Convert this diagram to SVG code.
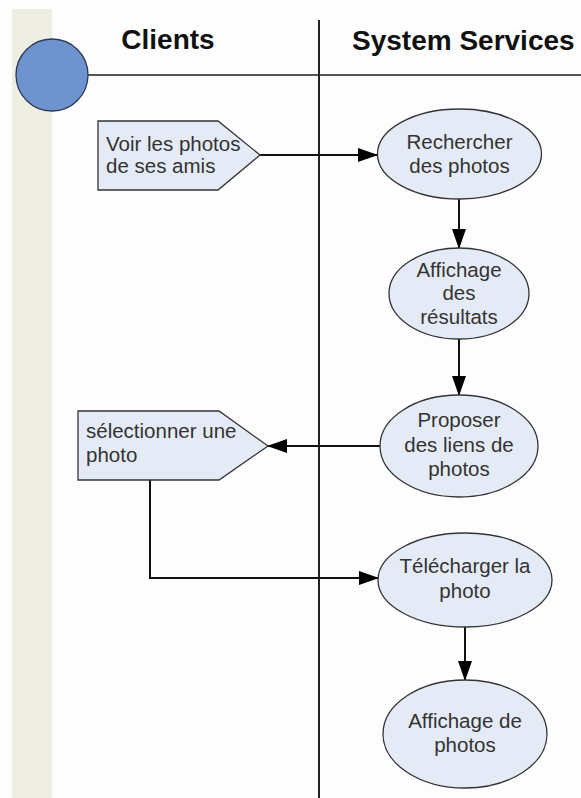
<svg xmlns="http://www.w3.org/2000/svg" width="581" height="798" viewBox="0 0 581 798">
<style>
.node{fill:#e5ebf6;stroke:#333;stroke-width:1.3}
.lbl{font-family:"Liberation Sans",Arial,sans-serif;font-size:20.5px;fill:#333}
.ctr{text-anchor:middle}
.hdr{font-family:"Liberation Sans",Arial,sans-serif;font-size:28px;font-weight:bold;fill:#111}
.conn{fill:none;stroke:#111;stroke-width:2}
</style>
<defs>
<marker id="arr" markerWidth="20" markerHeight="14" refX="19" refY="7" orient="auto" markerUnits="userSpaceOnUse">
<path d="M0,0 L20,7 L0,14 Z" fill="#000"/>
</marker>
</defs>
<rect x="0" y="0" width="581" height="798" fill="#fdfdfd"/>
<rect x="12" y="9" width="40" height="789" fill="#eeeee2"/>
<g id="lanes">
<line x1="88" y1="75" x2="581" y2="75" stroke="#555" stroke-width="2"/>
<line x1="319" y1="20" x2="319" y2="798" stroke="#222" stroke-width="2"/>
<circle cx="52" cy="75" r="36" fill="#6f93cf" stroke="#2a3a55" stroke-width="1.3"/>
<text class="hdr ctr" x="168" y="49">Clients</text>
<text class="hdr" x="352" y="50">System Services</text>
</g>
<g id="connectors">
<line class="conn" x1="260" y1="155" x2="377" y2="155" marker-end="url(#arr)"/>
<line class="conn" x1="459" y1="199" x2="459" y2="248" marker-end="url(#arr)"/>
<line class="conn" x1="459" y1="339" x2="459" y2="395" marker-end="url(#arr)"/>
<line class="conn" x1="380" y1="446" x2="268" y2="446" marker-end="url(#arr)"/>
<polyline class="conn" points="150,480 150,578 378,578" marker-end="url(#arr)"/>
<line class="conn" x1="465" y1="627" x2="465" y2="680" marker-end="url(#arr)"/>
</g>
<g id="voir">
<polygon class="node" points="98,121 218,121 260,155 218,190 98,190"/>
<text class="lbl" x="106" y="151">Voir les photos</text>
<text class="lbl" x="106" y="173">de ses amis</text>
</g>
<g id="rechercher">
<ellipse class="node" cx="459.5" cy="154" rx="82" ry="45"/>
<text class="lbl ctr" x="459.5" y="149">Rechercher</text>
<text class="lbl ctr" x="459.5" y="173">des photos</text>
</g>
<g id="affichage-resultats">
<ellipse class="node" cx="459" cy="293.5" rx="70" ry="45.5"/>
<text class="lbl ctr" x="459" y="277">Affichage</text>
<text class="lbl ctr" x="459" y="300">des</text>
<text class="lbl ctr" x="459" y="324">résultats</text>
</g>
<g id="proposer">
<ellipse class="node" cx="459" cy="446" rx="79" ry="51"/>
<text class="lbl ctr" x="459" y="427">Proposer</text>
<text class="lbl ctr" x="459" y="452">des liens de</text>
<text class="lbl ctr" x="459" y="476">photos</text>
</g>
<g id="selectionner">
<polygon class="node" points="78,411 219,411 268,446 219,480 78,480"/>
<text class="lbl" x="86" y="438">sélectionner une</text>
<text class="lbl" x="86" y="462">photo</text>
</g>
<g id="telecharger">
<ellipse class="node" cx="465" cy="580" rx="87" ry="47"/>
<text class="lbl ctr" x="465" y="573">Télécharger la</text>
<text class="lbl ctr" x="465" y="598">photo</text>
</g>
<g id="affichage-photos">
<ellipse class="node" cx="465" cy="734" rx="82" ry="54"/>
<text class="lbl ctr" x="465" y="728">Affichage de</text>
<text class="lbl ctr" x="465" y="752">photos</text>
</g>
</svg>
